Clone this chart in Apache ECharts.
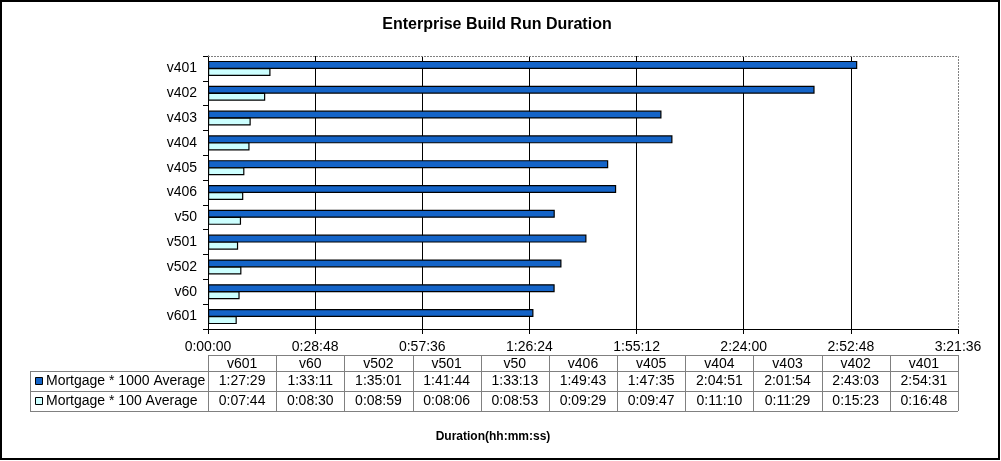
<!DOCTYPE html>
<html>
<head>
<meta charset="utf-8">
<script src="https://cdn.jsdelivr.net/npm/echarts@6/dist/echarts.min.js"></script>
<style>
html,body{margin:0;padding:0;background:#fff;}
#c{width:1001px;height:461px;}
</style>
</head>
<body>
<div id="c"></div>
<script>
var categories = ['v601','v60','v502','v501','v50','v406','v405','v404','v403','v402','v401'];
var seriesNames = ['Mortgage * 1000 Average','Mortgage * 100 Average'];
var m1000 = ['1:27:29','1:33:11','1:35:01','1:41:44','1:33:13','1:49:43','1:47:35','2:04:51','2:01:54','2:43:03','2:54:31'];
var m100 = ['0:07:44','0:08:30','0:08:59','0:08:06','0:08:53','0:09:29','0:09:47','0:11:10','0:11:29','0:15:23','0:16:48'];
var xTickLabels = ['0:00:00','0:28:48','0:57:36','1:26:24','1:55:12','2:24:00','2:52:48','3:21:36'];
var tickStep = 1728;

function toSec(s){var p=s.split(':').map(Number);return p[0]*3600+p[1]*60+p[2];}

var FONT = '"Liberation Sans", Arial, sans-serif';
var G = {left:208, right:43, top:56, bottom:132};
var W = 1001, H = 461;
var gx0 = G.left, gx1 = W - G.right, gy0 = G.top, gy1 = H - G.bottom;
var darkCol = '#1464c8', lightCol = '#ccffff';

var chart = echarts.init(document.getElementById('c'), null, {renderer:'canvas'});

// data table graphics
var graphics = [];
var gray = '#808080';
var colW = (gx1 - gx0) / categories.length;
var rowY = [355, 371, 391, 411];
var tableLeft = 30;
function hline(x1,y,x2){graphics.push({type:'line',shape:{x1:x1,y1:y+0.5,x2:x2,y2:y+0.5},style:{stroke:gray,lineWidth:1},silent:true});}
function vline(x,y1,y2){graphics.push({type:'line',shape:{x1:x+0.5,y1:y1,x2:x+0.5,y2:y2},style:{stroke:gray,lineWidth:1},silent:true});}
hline(gx0, rowY[0], gx1);
hline(tableLeft, rowY[1], gx1);
hline(tableLeft, rowY[2], gx1);
hline(tableLeft, rowY[3], gx1);
vline(tableLeft, rowY[1], rowY[3]);
for (var i=0;i<=categories.length;i++){
  vline(Math.round(gx0 + i*colW), rowY[0], rowY[3]);
}
function txt(x,y,s,align,opts){
  var o = {type:'text',x:x,y:y,silent:true,style:{text:s,fill:'#000',font:'14px '+FONT,align:align||'center',verticalAlign:'middle'}};
  if (opts) for (var k in opts) o.style[k]=opts[k];
  graphics.push(o);
}
var rows = [m1000, m100];
categories.forEach(function(c,i){
  var cx = gx0 + (i+0.5)*colW;
  txt(cx, (rowY[0]+rowY[1])/2+1, c);
  txt(cx, (rowY[1]+rowY[2])/2+0.5, rows[0][i]);
  txt(cx, (rowY[2]+rowY[3])/2+0.5, rows[1][i]);
});
// legend keys in table
[darkCol, lightCol].forEach(function(col,r){
  var cy = (rowY[r+1]+rowY[r+2])/2;
  graphics.push({type:'rect',shape:{x:35.5,y:Math.round(cy)-3.5,width:7,height:7},style:{fill:col,stroke:'#000',lineWidth:1},silent:true});
  txt(46, cy+0.5, seriesNames[r], 'left');
});
// plot area dotted border (top & right)
graphics.push({type:'polyline',shape:{points:[[gx0,gy0+0.5],[gx1+0.5,gy0+0.5],[gx1+0.5,gy1]]},style:{stroke:gray,lineWidth:1,lineDash:[2,1],fill:null},silent:true,z:5});
// outer border
graphics.push({type:'rect',shape:{x:1,y:1,width:W-3,height:H-3},style:{fill:null,stroke:'#000',lineWidth:2},silent:true,z:10});
// chart title
txt(497, 25, 'Enterprise Build Run Duration', 'center', {font:'bold 16px '+FONT});
// axis title
txt(493, 437, 'Duration(hh:mm:ss)', 'center', {font:'bold 12px '+FONT});

var option = {
  animation:false,
  backgroundColor:'#fff',
  grid:{left:G.left, right:G.right, top:G.top, bottom:G.bottom, containLabel:false},
  xAxis:{
    type:'value', min:0, max:tickStep*(xTickLabels.length-1), interval:tickStep,
    axisLine:{show:true,lineStyle:{color:'#000',width:1}},
    axisTick:{show:true,length:5,lineStyle:{color:'#000'}},
    axisLabel:{color:'#000',fontSize:14,fontFamily:FONT,margin:11,
      formatter:function(v){return xTickLabels[Math.round(v/tickStep)];}},
    splitLine:{show:true,showMaxLine:false,lineStyle:{color:'#000',width:1}}
  },
  yAxis:{
    type:'category', data:categories,
    axisLine:{show:true,lineStyle:{color:'#000',width:1}},
    axisTick:{show:true,length:5,lineStyle:{color:'#000'}},
    axisLabel:{color:'#000',fontSize:14,fontFamily:FONT,margin:11},
    splitLine:{show:false}
  },
  series:[
    {name:seriesNames[0],type:'bar',data:m1000.map(toSec),barWidth:8,barGap:'-12%',
     itemStyle:{color:darkCol,borderColor:'#000',borderWidth:1.2}},
    {name:seriesNames[1],type:'bar',data:m100.map(toSec),barWidth:8,barGap:'-12%',
     itemStyle:{color:lightCol,borderColor:'#000',borderWidth:1.2}}
  ],
  graphic:graphics
};
chart.setOption(option);
</script>
</body>
</html>
